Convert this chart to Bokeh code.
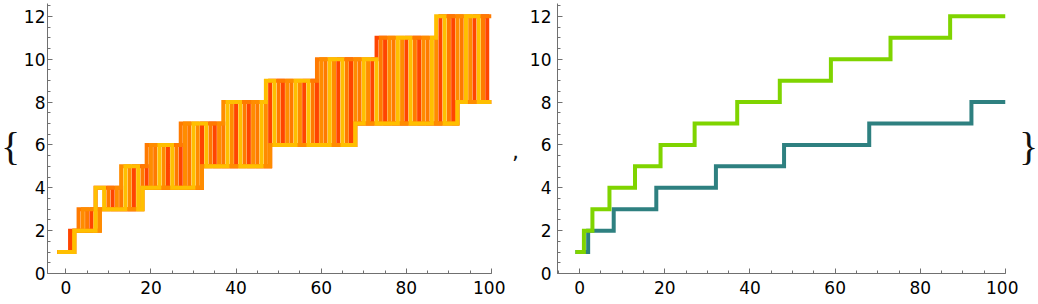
from bokeh.plotting import figure
from bokeh.layouts import row
from bokeh.models import Range1d, SingleIntervalTicker
from bokeh.core.properties import value
from bokeh.embed import file_html
from bokeh.resources import INLINE

# ---- left panel: four step series (vertices, value holds until next x) ----
red_x = [-2, 1, 3, 6, 7, 11, 16, 19, 24, 27, 32, 35, 40, 43, 48, 51, 56, 59, 64, 67, 68, 72, 73, 75, 80, 83, 88, 91, 92, 96, 99, 100]
red_y = [1, 2, 2, 3, 4, 3, 5, 4, 6, 4, 7, 5, 8, 5, 9, 6, 9, 6, 10, 6, 7, 10, 11, 7, 11, 7, 12, 7, 8, 12, 8, 8]

dorange_x = [-2, 2, 3, 5, 8, 10, 13, 18, 19, 21, 26, 27, 29, 32, 34, 37, 42, 45, 48, 50, 53, 58, 59, 61, 66, 69, 74, 77, 82, 85, 90, 93, 98, 100]
dorange_y = [1, 2, 3, 2, 3, 4, 3, 5, 6, 4, 6, 7, 4, 5, 7, 5, 8, 5, 6, 9, 6, 9, 10, 6, 10, 7, 11, 7, 11, 7, 12, 8, 12, 12]

orange_x = [-2, 2, 4, 7, 8, 12, 13, 15, 18, 20, 23, 28, 31, 32, 36, 37, 39, 44, 47, 48, 52, 55, 60, 63, 68, 71, 76, 79, 84, 87, 92, 95, 100]
orange_y = [1, 2, 3, 2, 3, 4, 5, 3, 4, 6, 4, 7, 4, 5, 7, 8, 5, 8, 5, 6, 9, 6, 10, 6, 10, 7, 11, 7, 11, 7, 12, 8, 8]

yellow_x = [-2, 2, 7, 9, 14, 17, 18, 22, 25, 30, 33, 38, 41, 46, 47, 49, 54, 57, 62, 65, 68, 70, 73, 78, 81, 86, 87, 89, 92, 94, 97, 100]
yellow_y = [1, 2, 4, 3, 5, 3, 4, 6, 4, 7, 5, 8, 5, 8, 9, 6, 9, 6, 10, 6, 7, 10, 7, 11, 7, 11, 12, 7, 8, 12, 8, 8]

left_colors = ["#FF4500", "#FF7A00", "#FF8C00", "#FFBF00"]

# ---- right panel: upper and lower envelopes ----
upper_x = [-1, 1, 3, 7, 13, 19, 27, 37, 47, 59, 73, 87, 100]
upper_y = [1, 2, 3, 4, 5, 6, 7, 8, 9, 10, 11, 12, 12]
lower_x = [-1, 2, 8, 18, 32, 48, 68, 92, 100]
lower_y = [1, 2, 3, 4, 5, 6, 7, 8, 8]

x_ticks_interval = 20
y_ticks_interval = 2

AXIS_COLOR = "#707070"
FONT = "DejaVu Sans"
LW = 4


def make_plot(width, left_border, right_border, y_standoff, x_start):
    p = figure(width=width, height=304, output_backend="svg", toolbar_location=None,
               x_range=Range1d(x_start, 100), y_range=Range1d(0, 12.6),
               min_border_left=left_border, min_border_right=right_border,
               min_border_top=3, min_border_bottom=31)
    p.outline_line_color = None
    p.grid.visible = False
    p.xaxis.ticker = SingleIntervalTicker(interval=x_ticks_interval, num_minor_ticks=4)
    p.yaxis.ticker = SingleIntervalTicker(interval=y_ticks_interval, num_minor_ticks=4)
    for ax in (p.xaxis[0], p.yaxis[0]):
        ax.axis_line_color = AXIS_COLOR
        ax.major_tick_line_color = AXIS_COLOR
        ax.minor_tick_line_color = AXIS_COLOR
        ax.major_tick_in = 5
        ax.major_tick_out = 0
        ax.minor_tick_in = 3
        ax.minor_tick_out = 0
        ax.major_label_text_font = FONT
        ax.major_label_text_font_size = "17px"
        ax.major_label_text_color = "#000000"
    p.xaxis.major_label_standoff = 7
    p.yaxis.major_label_standoff = y_standoff
    return p


def text_fig(width, txt, x, y, size, font):
    f = figure(width=width, height=304, output_backend="svg", toolbar_location=None,
               x_range=Range1d(0, width), y_range=Range1d(0, 304), min_border=0)
    f.axis.visible = False
    f.grid.visible = False
    f.outline_line_color = None
    f.text(x=[x], y=[y], text=[txt], text_align="center", text_baseline="alphabetic",
           text_font=value(font), text_font_size=size, text_color="#111111")
    return f


# layout: [brace 0-20][plot 20-505][comma 505-522][plot 522-1018][brace 1018-1038]
lb = text_fig(20, "{", 10, 142.5, "40px", "Liberation Serif")

p1 = make_plot(485, 23, 14, 2, -4.3)
for xs, ys, c in [(red_x, red_y, left_colors[0]), (dorange_x, dorange_y, left_colors[1]),
                  (orange_x, orange_y, left_colors[2]), (yellow_x, yellow_y, left_colors[3])]:
    p1.step(x=xs, y=ys, mode="after", line_color=c, line_width=LW,
            line_join="miter", line_cap="butt")

cm = text_fig(17, ",", 10, 138, "22px", FONT)

p2 = make_plot(496, 35, 13, 6, -5.2)
p2.step(x=lower_x, y=lower_y, mode="after", line_color="#2E8080", line_width=LW,
        line_join="miter", line_cap="butt")
p2.step(x=upper_x, y=upper_y, mode="after", line_color="#7FD400", line_width=LW,
        line_join="miter", line_cap="butt")

rb = text_fig(20, "}", 10, 142.5, "40px", "Liberation Serif")

layout = row(lb, p1, cm, p2, rb, spacing=0)
open("out.html", "w").write(file_html(layout, INLINE))
